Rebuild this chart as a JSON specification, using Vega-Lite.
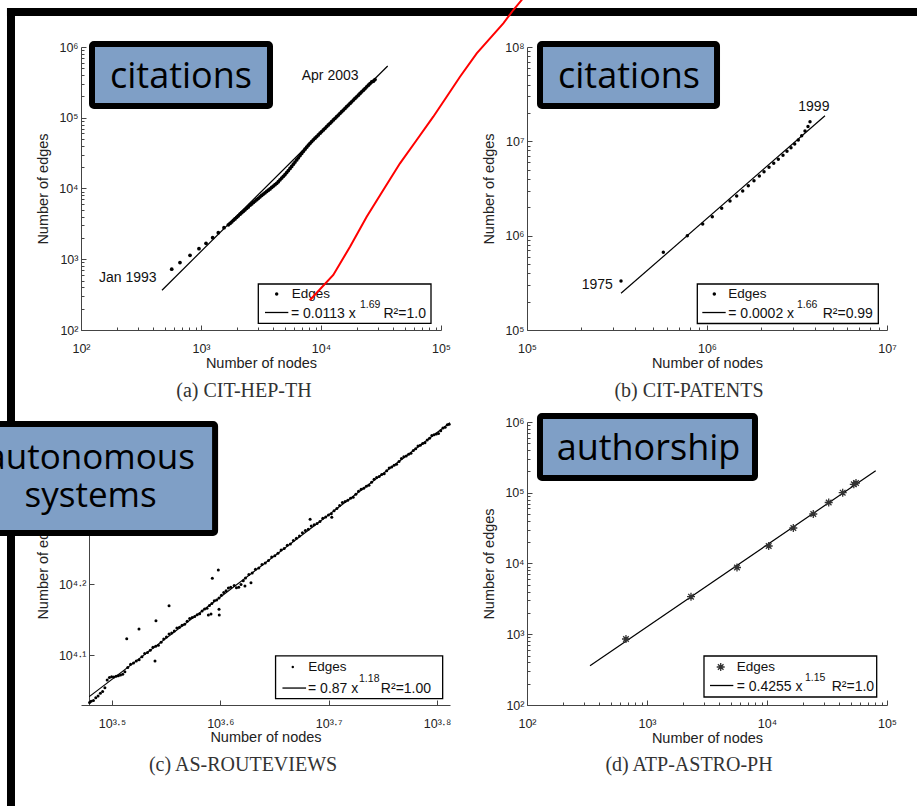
{
"$schema": "https://vega.github.io/schema/vega-lite/v6.json",
"autosize": {"type": "none"},
"padding": {"left": 81, "top": 47, "right": 836, "bottom": 759},
"background": "white",
"config": {
  "view": {"stroke": null},
  "axis": {"grid": false, "domainColor": "#444", "domainWidth": 1, "tickColor": "#444", "tickWidth": 1, "labelFont": "Liberation Sans", "labelFontSize": 12.5, "labelColor": "#222", "titleFont": "Liberation Sans", "titleFontSize": 14.5, "titleFontWeight": "normal", "titleColor": "#222", "labelFlush": false, "labelOverlap": false},
  "text": {"font": "Liberation Sans"}
},
"datasets": {
  "citHepTh": [{"nodes":570,"edges":723},{"nodes":668,"edges":898},{"nodes":810,"edges":1138},{"nodes":962,"edges":1413},{"nodes":1101,"edges":1680},{"nodes":1251,"edges":2020},{"nodes":1394,"edges":2375},{"nodes":1555,"edges":2795},{"nodes":1690,"edges":3068},{"nodes":1745,"edges":3208},{"nodes":1801,"edges":3361},{"nodes":1860,"edges":3548},{"nodes":1920,"edges":3719},{"nodes":1983,"edges":3914},{"nodes":2047,"edges":4117},{"nodes":2115,"edges":4335},{"nodes":2183,"edges":4544},{"nodes":2255,"edges":4766},{"nodes":2327,"edges":4995},{"nodes":2403,"edges":5239},{"nodes":2480,"edges":5488},{"nodes":2562,"edges":5799},{"nodes":2644,"edges":6053},{"nodes":2731,"edges":6350},{"nodes":2818,"edges":6632},{"nodes":2911,"edges":6959},{"nodes":3005,"edges":7268},{"nodes":3104,"edges":7628},{"nodes":3203,"edges":7965},{"nodes":3308,"edges":8328},{"nodes":3415,"edges":8673},{"nodes":3527,"edges":9071},{"nodes":3640,"edges":9469},{"nodes":3760,"edges":9872},{"nodes":3881,"edges":10349},{"nodes":4009,"edges":10819},{"nodes":4137,"edges":11334},{"nodes":4274,"edges":11858},{"nodes":4411,"edges":12506},{"nodes":4556,"edges":13250},{"nodes":4702,"edges":14018},{"nodes":4857,"edges":14854},{"nodes":5012,"edges":15762},{"nodes":5177,"edges":16817},{"nodes":5343,"edges":17960},{"nodes":5519,"edges":19222},{"nodes":5696,"edges":20538},{"nodes":5884,"edges":22040},{"nodes":6073,"edges":23630},{"nodes":6273,"edges":25370},{"nodes":6474,"edges":27200},{"nodes":6688,"edges":29200},{"nodes":6902,"edges":31290},{"nodes":7130,"edges":33590},{"nodes":7357,"edges":36000},{"nodes":7600,"edges":38390},{"nodes":7844,"edges":40880},{"nodes":8103,"edges":43480},{"nodes":8362,"edges":46130},{"nodes":8637,"edges":48730},{"nodes":8913,"edges":51370},{"nodes":9208,"edges":54270},{"nodes":9503,"edges":57230},{"nodes":9816,"edges":60440},{"nodes":10130,"edges":63750},{"nodes":10465,"edges":67340},{"nodes":10800,"edges":71020},{"nodes":11155,"edges":74990},{"nodes":11510,"edges":79060},{"nodes":11890,"edges":83480},{"nodes":12270,"edges":88060},{"nodes":12680,"edges":93070},{"nodes":13090,"edges":98200},{"nodes":13520,"edges":103700},{"nodes":13950,"edges":109300},{"nodes":14410,"edges":115500},{"nodes":14870,"edges":121800},{"nodes":15360,"edges":128500},{"nodes":15850,"edges":135600},{"nodes":16375,"edges":143200},{"nodes":16900,"edges":151000},{"nodes":17455,"edges":159500},{"nodes":18010,"edges":168100},{"nodes":18605,"edges":177600},{"nodes":19200,"edges":187200},{"nodes":19835,"edges":197800},{"nodes":20470,"edges":208600},{"nodes":21150,"edges":220400},{"nodes":21830,"edges":232400},{"nodes":22550,"edges":245500},{"nodes":23270,"edges":258800},{"nodes":24035,"edges":273400},{"nodes":24800,"edges":288300},{"nodes":25620,"edges":304400},{"nodes":26440,"edges":321000},{"nodes":27310,"edges":328200},{"nodes":28180,"edges":346100}],
  "citHepThFit": [{"nodes":473,"edges":365},{"nodes":35960,"edges":538900}],
  "citPatents": [{"nodes":332900,"edges":330700},{"nodes":571900,"edges":666300},{"nodes":777300,"edges":999000},{"nodes":946400,"edges":1329000},{"nodes":1070000,"edges":1589000},{"nodes":1207000,"edges":1950000},{"nodes":1342000,"edges":2330000},{"nodes":1462000,"edges":2633000},{"nodes":1579000,"edges":2975000},{"nodes":1696000,"edges":3385000},{"nodes":1824000,"edges":3824000},{"nodes":1953000,"edges":4290000},{"nodes":2074000,"edges":4764000},{"nodes":2211000,"edges":5305000},{"nodes":2348000,"edges":5849000},{"nodes":2490000,"edges":6450000},{"nodes":2643000,"edges":7110000},{"nodes":2782000,"edges":7841000},{"nodes":2929000,"edges":8560000},{"nodes":3070000,"edges":9370000},{"nodes":3215000,"edges":10330000},{"nodes":3358000,"edges":11470000},{"nodes":3503000,"edges":12870000},{"nodes":3640000,"edges":14360000},{"nodes":3735000,"edges":16150000}],
  "citPatentsFit": [{"nodes":332900,"edges":244800},{"nodes":4524000,"edges":18690000}],
  "asRouteViews": [{"nodes":3015,"edges":10792},{"nodes":3025,"edges":10834},{"nodes":3040,"edges":10860},{"nodes":3055,"edges":10959},{"nodes":3070,"edges":11022},{"nodes":3085,"edges":11121},{"nodes":3100,"edges":11183},{"nodes":3115,"edges":11320},{"nodes":3130,"edges":11607},{"nodes":3145,"edges":11708},{"nodes":3160,"edges":11735},{"nodes":3175,"edges":11723},{"nodes":3190,"edges":11750},{"nodes":3205,"edges":11775},{"nodes":3220,"edges":11801},{"nodes":3235,"edges":11826},{"nodes":3250,"edges":11928},{"nodes":3270,"edges":12092},{"nodes":3290,"edges":12216},{"nodes":3310,"edges":12263},{"nodes":3330,"edges":12349},{"nodes":3350,"edges":12395},{"nodes":3370,"edges":12521},{"nodes":3390,"edges":12648},{"nodes":3410,"edges":12693},{"nodes":3430,"edges":12780},{"nodes":3450,"edges":12909},{"nodes":3470,"edges":12953},{"nodes":3490,"edges":12998},{"nodes":3510,"edges":13126},{"nodes":3530,"edges":13256},{"nodes":3550,"edges":13343},{"nodes":3570,"edges":13474},{"nodes":3590,"edges":13518},{"nodes":3610,"edges":13605},{"nodes":3630,"edges":13737},{"nodes":3650,"edges":13779},{"nodes":3670,"edges":13866},{"nodes":3690,"edges":13909},{"nodes":3710,"edges":14042},{"nodes":3730,"edges":14176},{"nodes":3750,"edges":14218},{"nodes":3770,"edges":14260},{"nodes":3790,"edges":14347},{"nodes":3810,"edges":14388},{"nodes":3830,"edges":14523},{"nodes":3850,"edges":14612},{"nodes":3870,"edges":14652},{"nodes":3890,"edges":14788},{"nodes":3910,"edges":14876},{"nodes":3930,"edges":15013},{"nodes":3950,"edges":15053},{"nodes":3970,"edges":15141},{"nodes":3990,"edges":15279},{"nodes":4010,"edges":15417},{"nodes":4030,"edges":15507},{"nodes":4050,"edges":15646},{"nodes":4070,"edges":15685},{"nodes":4100,"edges":15768},{"nodes":4120,"edges":15652},{"nodes":4140,"edges":15688},{"nodes":4160,"edges":15830},{"nodes":4180,"edges":16022},{"nodes":4200,"edges":16163},{"nodes":4230,"edges":16350},{"nodes":4260,"edges":16431},{"nodes":4290,"edges":16620},{"nodes":4320,"edges":16700},{"nodes":4350,"edges":16889},{"nodes":4380,"edges":16968},{"nodes":4410,"edges":17103},{"nodes":4440,"edges":17294},{"nodes":4470,"edges":17373},{"nodes":4500,"edges":17508},{"nodes":4530,"edges":17701},{"nodes":4560,"edges":17779},{"nodes":4590,"edges":17973},{"nodes":4620,"edges":18051},{"nodes":4650,"edges":18245},{"nodes":4680,"edges":18381},{"nodes":4710,"edges":18518},{"nodes":4740,"edges":18716},{"nodes":4770,"edges":18852},{"nodes":4800,"edges":18928},{"nodes":4830,"edges":19127},{"nodes":4860,"edges":19203},{"nodes":4890,"edges":19278},{"nodes":4920,"edges":19414},{"nodes":4950,"edges":19615},{"nodes":4980,"edges":19689},{"nodes":5010,"edges":19826},{"nodes":5040,"edges":19899},{"nodes":5070,"edges":20101},{"nodes":5100,"edges":20239},{"nodes":5130,"edges":20443},{"nodes":5160,"edges":20648},{"nodes":5190,"edges":20720},{"nodes":5220,"edges":20792},{"nodes":5250,"edges":20931},{"nodes":5280,"edges":21001},{"nodes":5310,"edges":21208},{"nodes":5340,"edges":21416},{"nodes":5370,"edges":21556},{"nodes":5400,"edges":21625},{"nodes":5430,"edges":21765},{"nodes":5460,"edges":21833},{"nodes":5490,"edges":22044},{"nodes":5520,"edges":22255},{"nodes":5550,"edges":22395},{"nodes":5580,"edges":22463},{"nodes":5610,"edges":22603},{"nodes":5640,"edges":22669},{"nodes":5670,"edges":22883},{"nodes":5700,"edges":23098},{"nodes":5730,"edges":23164},{"nodes":5760,"edges":23304},{"nodes":5790,"edges":23369},{"nodes":5820,"edges":23586},{"nodes":5850,"edges":23804},{"nodes":5880,"edges":23945},{"nodes":5910,"edges":24009},{"nodes":5940,"edges":24151},{"nodes":5970,"edges":24213},{"nodes":6000,"edges":24434},{"nodes":6030,"edges":24576},{"nodes":6060,"edges":24798},{"nodes":6090,"edges":24860},{"nodes":6120,"edges":25002},{"nodes":6150,"edges":25063},{"nodes":6180,"edges":25286},{"nodes":6210,"edges":25429},{"nodes":6240,"edges":25654},{"nodes":6270,"edges":25714},{"nodes":6300,"edges":25772},{"nodes":6330,"edges":25831},{"nodes":6360,"edges":26057},{"nodes":6390,"edges":26285},{"nodes":6420,"edges":26343},{"nodes":6450,"edges":26572},{"nodes":6475,"edges":26605},{"nodes":3263,"edges":13275},{"nodes":3349,"edges":13697},{"nodes":3472,"edges":14071},{"nodes":3570,"edges":14770},{"nodes":3914,"edges":16147},{"nodes":3964,"edges":16586},{"nodes":3465,"edges":12346},{"nodes":3881,"edges":14333},{"nodes":3903,"edges":14380},{"nodes":3970,"edges":14600},{"nodes":3972,"edges":14333},{"nodes":4195,"edges":15745},{"nodes":4249,"edges":15916},{"nodes":4818,"edges":19548},{"nodes":5045,"edges":19680}],
  "asRouteViewsFit": [{"nodes":3013,"edges":11000},{"nodes":6486,"edges":26740}],
  "atpAstroPh": [{"nodes":668,"edges":857},{"nodes":2326,"edges":3394},{"nodes":5623,"edges":8780},{"nodes":10330,"edges":17670},{"nodes":16570,"edges":31760},{"nodes":24310,"edges":50080},{"nodes":32680,"edges":72820},{"nodes":42740,"edges":100200},{"nodes":52890,"edges":131700},{"nodes":55160,"edges":137400}],
  "atpAstroPhFit": [{"nodes":335,"edges":359.4},{"nodes":80520,"edges":204900}],
  "redStroke": [{"x":8098,"y":265.5},{"x":12660,"y":598.8},{"x":17450,"y":1504},{"x":24030,"y":3994},{"x":33050,"y":9524},{"x":45530,"y":22710},{"x":62730,"y":48470},{"x":86260,"y":103500},{"x":111500,"y":198400},{"x":144000,"y":380400},{"x":198400,"y":814700},{"x":330500,"y":2163000},{"x":400500,"y":3334000},{"x":470500,"y":4618000},{"x":551600,"y":6824000}]
},
"columns": 2,
"spacing": {"row": 92, "column": 77},
"bounds": "flush",
"concat": [
{
  "width": 360, "height": 283,
  "layer": [
    {"data": {"name": "citHepTh"}, "mark": {"type": "circle", "size": 14, "color": "black", "opacity": 1},
     "encoding": {
       "x": {"field": "nodes", "type": "quantitative", "scale": {"type": "log", "domain": [100, 100000], "nice": false},
             "axis": {"title": "Number of nodes", "values": [100,200,300,400,500,600,700,800,900,1000,2000,3000,4000,5000,6000,7000,8000,9000,10000,20000,30000,40000,50000,60000,70000,80000,90000,100000],
                      "labelExpr": "abs(log(datum.value)/LN10-round(log(datum.value)/LN10))<0.001 ? '10'+['⁰','¹','²','³','⁴','⁵','⁶','⁷','⁸','⁹'][round(log(datum.value)/LN10)] : ''",
                      "tickSize": {"condition": {"test": "abs(log(datum.value)/LN10-round(log(datum.value)/LN10))<0.001", "value": -5}, "value": -3},
                      "labelPadding": 17, "titlePadding": 0}},
       "y": {"field": "edges", "type": "quantitative", "scale": {"type": "log", "domain": [100, 1000000], "nice": false},
             "axis": {"title": "Number of edges", "values": [100,200,300,400,500,600,700,800,900,1000,2000,3000,4000,5000,6000,7000,8000,9000,10000,20000,30000,40000,50000,60000,70000,80000,90000,100000,200000,300000,400000,500000,600000,700000,800000,900000,1000000],
                      "labelExpr": "abs(log(datum.value)/LN10-round(log(datum.value)/LN10))<0.001 ? '10'+['⁰','¹','²','³','⁴','⁵','⁶','⁷','⁸','⁹'][round(log(datum.value)/LN10)] : ''",
                      "tickSize": {"condition": {"test": "abs(log(datum.value)/LN10-round(log(datum.value)/LN10))<0.001", "value": -5}, "value": -3},
                      "labelPadding": 8, "titlePadding": 8}}
     }},
    {"data": {"name": "citHepThFit"}, "mark": {"type": "line", "color": "black", "strokeWidth": 1.2},
     "encoding": {"x": {"field": "nodes", "type": "quantitative"}, "y": {"field": "edges", "type": "quantitative"}}},
    {"data": {"values": [{}]}, "mark": {"type": "rule", "color": "black", "strokeWidth": 8, "clip": false},
     "encoding": {"x": {"datum": 26.1, "type": "quantitative"}, "y": {"datum": 3557000, "type": "quantitative"}, "y2": {"datum": 0.000012}}},
    {"data": {"values": [{}]}, "mark": {"type": "rule", "color": "black", "strokeWidth": 8, "clip": false},
     "encoding": {"x": {"datum": 24.16, "type": "quantitative"}, "x2": {"datum": 1190000000}, "y": {"datum": 3124000, "type": "quantitative"}}},
    {"data": {"values": [{}]}, "mark": {"type": "text", "text": "(a) CIT-HEP-TH", "font": "Liberation Serif", "fontSize": 20, "align": "center", "baseline": "alphabetic", "color": "#333", "clip": false},
     "encoding": {"x": {"datum": 2282, "type": "quantitative"}, "y": {"datum": 11.3, "type": "quantitative"}}},
    {"data": {"values": [{}]}, "mark": {"type": "text", "text": "Apr 2003", "fontSize": 14, "align": "left", "baseline": "alphabetic", "color": "#111", "clip": false},
     "encoding": {"x": {"datum": 6906, "type": "quantitative"}, "y": {"datum": 341700, "type": "quantitative"}}},
    {"data": {"values": [{}]}, "mark": {"type": "text", "text": "Jan 1993", "fontSize": 14, "align": "left", "baseline": "alphabetic", "color": "#111", "clip": false},
     "encoding": {"x": {"datum": 141.3, "type": "quantitative"}, "y": {"datum": 472.5, "type": "quantitative"}}},
    {"data": {"values": [{}]}, "mark": {"type": "rect", "fill": "white", "stroke": "black", "strokeWidth": 1.3, "clip": false},
     "encoding": {"x": {"datum": 3003, "type": "quantitative"}, "x2": {"datum": 82540}, "y": {"datum": 447, "type": "quantitative"}, "y2": {"datum": 124.3}}},
    {"data": {"values": [{}]}, "mark": {"type": "circle", "size": 12, "color": "black", "opacity": 1, "clip": false},
     "encoding": {"x": {"datum": 4273, "type": "quantitative"}, "y": {"datum": 322.8, "type": "quantitative"}}},
    {"data": {"values": [{}]}, "mark": {"type": "text", "text": "Edges", "fontSize": 13.5, "align": "left", "baseline": "middle", "color": "#111", "clip": false},
     "encoding": {"x": {"datum": 5699, "type": "quantitative"}, "y": {"datum": 322.8, "type": "quantitative"}}},
    {"data": {"values": [{}]}, "mark": {"type": "rule", "color": "black", "strokeWidth": 1.3, "clip": false},
     "encoding": {"x": {"datum": 3415, "type": "quantitative"}, "x2": {"datum": 5341}, "y": {"datum": 176.8, "type": "quantitative"}}},
    {"data": {"values": [{}]}, "mark": {"type": "text", "text": "= 0.0113 x", "fontSize": 14, "align": "left", "baseline": "middle", "color": "#111", "clip": false},
     "encoding": {"x": {"datum": 5623, "type": "quantitative"}, "y": {"datum": 169.4, "type": "quantitative"}}},
    {"data": {"values": [{}]}, "mark": {"type": "text", "text": "1.69", "fontSize": 10.5, "align": "left", "baseline": "middle", "color": "#111", "clip": false},
     "encoding": {"x": {"datum": 21130, "type": "quantitative"}, "y": {"datum": 225.6, "type": "quantitative"}}},
    {"data": {"values": [{}]}, "mark": {"type": "text", "text": "R²=1.0", "fontSize": 14, "align": "left", "baseline": "middle", "color": "#111", "clip": false},
     "encoding": {"x": {"datum": 33180, "type": "quantitative"}, "y": {"datum": 169.4, "type": "quantitative"}}},
    {"data": {"values": [{}]}, "mark": {"type": "rect", "fill": "#7f9fc6", "stroke": "black", "strokeWidth": 6, "cornerRadius": 2, "clip": false},
     "encoding": {"x": {"datum": 123.5, "type": "quantitative"}, "x2": {"datum": 3758}, "y": {"datum": 1102700, "type": "quantitative"}, "y2": {"datum": 146600}}},
    {"data": {"values": [{}]}, "mark": {"type": "text", "text": "citations", "font": "Open Sans", "fontSize": 36, "align": "center", "baseline": "alphabetic", "color": "black", "clip": false},
     "encoding": {"x": {"datum": 681.3, "type": "quantitative"}, "y": {"datum": 260800, "type": "quantitative"}}},
    {"data": {"name": "redStroke"}, "mark": {"type": "line", "color": "#ff0000", "strokeWidth": 2, "clip": false},
     "encoding": {"x": {"field": "x", "type": "quantitative"}, "y": {"field": "y", "type": "quantitative"}}}
  ]
},
{
  "width": 360, "height": 283,
  "layer": [
    {"data": {"name": "citPatents"}, "mark": {"type": "circle", "size": 12, "color": "black", "opacity": 1},
     "encoding": {
       "x": {"field": "nodes", "type": "quantitative", "scale": {"type": "log", "domain": [100000, 10000000], "nice": false},
             "axis": {"title": "Number of nodes", "values": [100000,200000,300000,400000,500000,600000,700000,800000,900000,1000000,2000000,3000000,4000000,5000000,6000000,7000000,8000000,9000000,10000000],
                      "labelExpr": "abs(log(datum.value)/LN10-round(log(datum.value)/LN10))<0.001 ? '10'+['⁰','¹','²','³','⁴','⁵','⁶','⁷','⁸','⁹'][round(log(datum.value)/LN10)] : ''",
                      "tickSize": {"condition": {"test": "abs(log(datum.value)/LN10-round(log(datum.value)/LN10))<0.001", "value": -5}, "value": -3},
                      "labelPadding": 17, "titlePadding": 0}},
       "y": {"field": "edges", "type": "quantitative", "scale": {"type": "log", "domain": [100000, 100000000], "nice": false},
             "axis": {"title": "Number of edges", "values": [100000,200000,300000,400000,500000,600000,700000,800000,900000,1000000,2000000,3000000,4000000,5000000,6000000,7000000,8000000,9000000,10000000,20000000,30000000,40000000,50000000,60000000,70000000,80000000,90000000,100000000],
                      "labelExpr": "abs(log(datum.value)/LN10-round(log(datum.value)/LN10))<0.001 ? '10'+['⁰','¹','²','³','⁴','⁵','⁶','⁷','⁸','⁹'][round(log(datum.value)/LN10)] : ''",
                      "tickSize": {"condition": {"test": "abs(log(datum.value)/LN10-round(log(datum.value)/LN10))<0.001", "value": -5}, "value": -3},
                      "labelPadding": 8, "titlePadding": 8}}
     }},
    {"data": {"name": "citPatentsFit"}, "mark": {"type": "line", "color": "black", "strokeWidth": 1.2},
     "encoding": {"x": {"field": "nodes", "type": "quantitative"}, "y": {"field": "edges", "type": "quantitative"}}},
    {"data": {"values": [{}]}, "mark": {"type": "text", "text": "(b) CIT-PATENTS", "font": "Liberation Serif", "fontSize": 20, "align": "center", "baseline": "alphabetic", "color": "#333", "clip": false},
     "encoding": {"x": {"datum": 794300, "type": "quantitative"}, "y": {"datum": 19480, "type": "quantitative"}}},
    {"data": {"values": [{}]}, "mark": {"type": "text", "text": "1975", "fontSize": 14, "align": "left", "baseline": "alphabetic", "color": "#111", "clip": false},
     "encoding": {"x": {"datum": 201300, "type": "quantitative"}, "y": {"datum": 270100, "type": "quantitative"}}},
    {"data": {"values": [{}]}, "mark": {"type": "text", "text": "1999", "fontSize": 14, "align": "left", "baseline": "alphabetic", "color": "#111", "clip": false},
     "encoding": {"x": {"datum": 3215000, "type": "quantitative"}, "y": {"datum": 20970000, "type": "quantitative"}}},
    {"data": {"values": [{}]}, "mark": {"type": "rect", "fill": "white", "stroke": "black", "strokeWidth": 1.3, "clip": false},
     "encoding": {"x": {"datum": 883400, "type": "quantitative"}, "x2": {"datum": 8949000}, "y": {"datum": 307300, "type": "quantitative"}, "y2": {"datum": 117200}}},
    {"data": {"values": [{}]}, "mark": {"type": "circle", "size": 12, "color": "black", "opacity": 1, "clip": false},
     "encoding": {"x": {"datum": 1098000, "type": "quantitative"}, "y": {"datum": 240700, "type": "quantitative"}}},
    {"data": {"values": [{}]}, "mark": {"type": "text", "text": "Edges", "fontSize": 13.5, "align": "left", "baseline": "middle", "color": "#111", "clip": false},
     "encoding": {"x": {"datum": 1313000, "type": "quantitative"}, "y": {"datum": 240700, "type": "quantitative"}}},
    {"data": {"values": [{}]}, "mark": {"type": "rule", "color": "black", "strokeWidth": 1.3, "clip": false},
     "encoding": {"x": {"datum": 941700, "type": "quantitative"}, "x2": {"datum": 1270000}, "y": {"datum": 153200, "type": "quantitative"}}},
    {"data": {"values": [{}]}, "mark": {"type": "text", "text": "= 0.0002 x", "fontSize": 14, "align": "left", "baseline": "middle", "color": "#111", "clip": false},
     "encoding": {"x": {"datum": 1313000, "type": "quantitative"}, "y": {"datum": 148400, "type": "quantitative"}}},
    {"data": {"values": [{}]}, "mark": {"type": "text", "text": "1.66", "fontSize": 10.5, "align": "left", "baseline": "middle", "color": "#111", "clip": false},
     "encoding": {"x": {"datum": 3162000, "type": "quantitative"}, "y": {"datum": 184000, "type": "quantitative"}}},
    {"data": {"values": [{}]}, "mark": {"type": "text", "text": "R²=0.99", "fontSize": 14, "align": "left", "baseline": "middle", "color": "#111", "clip": false},
     "encoding": {"x": {"datum": 4393000, "type": "quantitative"}, "y": {"datum": 148400, "type": "quantitative"}}},
    {"data": {"values": [{}]}, "mark": {"type": "rect", "fill": "#7f9fc6", "stroke": "black", "strokeWidth": 6, "cornerRadius": 2, "clip": false},
     "encoding": {"x": {"datum": 118100, "type": "quantitative"}, "x2": {"datum": 1136700}, "y": {"datum": 107600000, "type": "quantitative"}, "y2": {"datum": 23690000}}},
    {"data": {"values": [{}]}, "mark": {"type": "text", "text": "citations", "font": "Open Sans", "fontSize": 36, "align": "center", "baseline": "alphabetic", "color": "black", "clip": false},
     "encoding": {"x": {"datum": 368800, "type": "quantitative"}, "y": {"datum": 36500000, "type": "quantitative"}}}
  ]
},
{
  "width": 369, "height": 283,
  "layer": [
    {"data": {"name": "asRouteViews"}, "mark": {"type": "circle", "size": 9, "color": "black", "opacity": 1},
     "encoding": {
       "x": {"field": "nodes", "type": "quantitative", "scale": {"type": "log", "domain": [2960.7, 6486.3], "nice": false},
             "axis": {"title": "Number of nodes", "values": [3162.28, 3981.07, 5011.87, 6309.57],
                      "labelExpr": "datum.value<3500?'10³·⁵':datum.value<4500?'10³·⁶':datum.value<5600?'10³·⁷':'10³·⁸'",
                      "tickSize": -5, "labelPadding": 17, "titlePadding": 1}},
       "y": {"field": "edges", "type": "quantitative", "scale": {"type": "log", "domain": [10705, 26804], "nice": false},
             "axis": {"title": "Number of edges", "values": [12589.25, 15848.93], "offset": -8,
                      "labelExpr": "datum.value<14000?'10⁴·¹':'10⁴·²'",
                      "tickSize": -5, "labelPadding": 8, "titlePadding": 8}}
     }},
    {"data": {"name": "asRouteViewsFit"}, "mark": {"type": "line", "color": "black", "strokeWidth": 1.2},
     "encoding": {"x": {"field": "nodes", "type": "quantitative"}, "y": {"field": "edges", "type": "quantitative"}}},
    {"data": {"values": [{}]}, "mark": {"type": "text", "text": "(c) AS-ROUTEVIEWS", "font": "Liberation Serif", "fontSize": 20, "align": "center", "baseline": "alphabetic", "color": "#333", "clip": false},
     "encoding": {"x": {"datum": 4178, "type": "quantitative"}, "y": {"datum": 8643, "type": "quantitative"}}},
    {"data": {"values": [{}]}, "mark": {"type": "rect", "fill": "white", "stroke": "black", "strokeWidth": 1.3, "clip": false},
     "encoding": {"x": {"datum": 4477, "type": "quantitative"}, "x2": {"datum": 6386}, "y": {"datum": 12550, "type": "quantitative"}, "y2": {"datum": 10930}}},
    {"data": {"values": [{}]}, "mark": {"type": "circle", "size": 6, "color": "black", "opacity": 1, "clip": false},
     "encoding": {"x": {"datum": 4644, "type": "quantitative"}, "y": {"datum": 12110, "type": "quantitative"}}},
    {"data": {"values": [{}]}, "mark": {"type": "text", "text": "Edges", "fontSize": 13.5, "align": "left", "baseline": "middle", "color": "#111", "clip": false},
     "encoding": {"x": {"datum": 4800, "type": "quantitative"}, "y": {"datum": 12110, "type": "quantitative"}}},
    {"data": {"values": [{}]}, "mark": {"type": "rule", "color": "black", "strokeWidth": 1.3, "clip": false},
     "encoding": {"x": {"datum": 4543, "type": "quantitative"}, "x2": {"datum": 4777}, "y": {"datum": 11310, "type": "quantitative"}}},
    {"data": {"values": [{}]}, "mark": {"type": "text", "text": "= 0.87 x", "fontSize": 14, "align": "left", "baseline": "middle", "color": "#111", "clip": false},
     "encoding": {"x": {"datum": 4797, "type": "quantitative"}, "y": {"datum": 11290, "type": "quantitative"}}},
    {"data": {"values": [{}]}, "mark": {"type": "text", "text": "1.18", "fontSize": 10.5, "align": "left", "baseline": "middle", "color": "#111", "clip": false},
     "encoding": {"x": {"datum": 5346, "type": "quantitative"}, "y": {"datum": 11650, "type": "quantitative"}}},
    {"data": {"values": [{}]}, "mark": {"type": "text", "text": "R²=1.00", "fontSize": 14, "align": "left", "baseline": "middle", "color": "#111", "clip": false},
     "encoding": {"x": {"datum": 5600, "type": "quantitative"}, "y": {"datum": 11290, "type": "quantitative"}}},
    {"data": {"values": [{}]}, "mark": {"type": "rect", "fill": "#7f9fc6", "stroke": "black", "strokeWidth": 6, "cornerRadius": 2, "clip": false},
     "encoding": {"x": {"datum": 2314, "type": "quantitative"}, "x2": {"datum": 3937}, "y": {"datum": 26630, "type": "quantitative"}, "y2": {"datum": 18700}}},
    {"data": {"values": [{}]}, "mark": {"type": "text", "text": "autonomous", "font": "Open Sans", "fontSize": 35, "align": "center", "baseline": "alphabetic", "color": "black", "clip": false},
     "encoding": {"x": {"datum": 3022, "type": "quantitative"}, "y": {"datum": 22990, "type": "quantitative"}}},
    {"data": {"values": [{}]}, "mark": {"type": "text", "text": "systems", "font": "Open Sans", "fontSize": 35, "align": "center", "baseline": "alphabetic", "color": "black", "clip": false},
     "encoding": {"x": {"datum": 3022, "type": "quantitative"}, "y": {"datum": 20370, "type": "quantitative"}}}
  ]
},
{
  "width": 360, "height": 283,
  "layer": [
    {"data": {"name": "atpAstroPhFit"}, "mark": {"type": "line", "color": "black", "strokeWidth": 1.2},
     "encoding": {
       "x": {"field": "nodes", "type": "quantitative", "scale": {"type": "log", "domain": [100, 100000], "nice": false},
             "axis": {"title": "Number of nodes", "values": [100,200,300,400,500,600,700,800,900,1000,2000,3000,4000,5000,6000,7000,8000,9000,10000,20000,30000,40000,50000,60000,70000,80000,90000,100000],
                      "labelExpr": "abs(log(datum.value)/LN10-round(log(datum.value)/LN10))<0.001 ? '10'+['⁰','¹','²','³','⁴','⁵','⁶','⁷','⁸','⁹'][round(log(datum.value)/LN10)] : ''",
                      "tickSize": {"condition": {"test": "abs(log(datum.value)/LN10-round(log(datum.value)/LN10))<0.001", "value": -5}, "value": -3},
                      "labelPadding": 17, "titlePadding": 0}},
       "y": {"field": "edges", "type": "quantitative", "scale": {"type": "log", "domain": [100, 1000000], "nice": false},
             "axis": {"title": "Number of edges", "values": [100,200,300,400,500,600,700,800,900,1000,2000,3000,4000,5000,6000,7000,8000,9000,10000,20000,30000,40000,50000,60000,70000,80000,90000,100000,200000,300000,400000,500000,600000,700000,800000,900000,1000000],
                      "labelExpr": "abs(log(datum.value)/LN10-round(log(datum.value)/LN10))<0.001 ? '10'+['⁰','¹','²','³','⁴','⁵','⁶','⁷','⁸','⁹'][round(log(datum.value)/LN10)] : ''",
                      "tickSize": {"condition": {"test": "abs(log(datum.value)/LN10-round(log(datum.value)/LN10))<0.001", "value": -5}, "value": -3},
                      "labelPadding": 8, "titlePadding": 8}}
     }},
    {"data": {"name": "atpAstroPh"}, "mark": {"type": "point", "shape": "M-1,0L1,0M0,-1L0,1M-0.7,-0.7L0.7,0.7M-0.7,0.7L0.7,-0.7", "size": 64, "filled": false, "color": "#333", "strokeWidth": 1.3, "opacity": 1},
     "encoding": {"x": {"field": "nodes", "type": "quantitative"}, "y": {"field": "edges", "type": "quantitative"}}},
    {"data": {"values": [{}]}, "mark": {"type": "text", "text": "(d) ATP-ASTRO-PH", "font": "Liberation Serif", "fontSize": 20, "align": "center", "baseline": "alphabetic", "color": "#333", "clip": false},
     "encoding": {"x": {"datum": 2239, "type": "quantitative"}, "y": {"datum": 11.67, "type": "quantitative"}}},
    {"data": {"values": [{}]}, "mark": {"type": "rect", "fill": "white", "stroke": "black", "strokeWidth": 1.3, "clip": false},
     "encoding": {"x": {"datum": 2985, "type": "quantitative"}, "x2": {"datum": 82060}, "y": {"datum": 492.7, "type": "quantitative"}, "y2": {"datum": 129.8}}},
    {"data": {"values": [{}]}, "mark": {"type": "point", "shape": "M-1,0L1,0M0,-1L0,1M-0.7,-0.7L0.7,0.7M-0.7,0.7L0.7,-0.7", "size": 64, "filled": false, "color": "#333", "strokeWidth": 1.3, "opacity": 1, "clip": false},
     "encoding": {"x": {"datum": 4114, "type": "quantitative"}, "y": {"datum": 344.4, "type": "quantitative"}}},
    {"data": {"values": [{}]}, "mark": {"type": "text", "text": "Edges", "fontSize": 13.5, "align": "left", "baseline": "middle", "color": "#111", "clip": false},
     "encoding": {"x": {"datum": 5591, "type": "quantitative"}, "y": {"datum": 344.4, "type": "quantitative"}}},
    {"data": {"values": [{}]}, "mark": {"type": "rule", "color": "black", "strokeWidth": 1.3, "clip": false},
     "encoding": {"x": {"datum": 3350, "type": "quantitative"}, "x2": {"datum": 5240}, "y": {"datum": 188.6, "type": "quantitative"}}},
    {"data": {"values": [{}]}, "mark": {"type": "text", "text": "= 0.4255 x", "fontSize": 14, "align": "left", "baseline": "middle", "color": "#111", "clip": false},
     "encoding": {"x": {"datum": 5591, "type": "quantitative"}, "y": {"datum": 179.7, "type": "quantitative"}}},
    {"data": {"values": [{}]}, "mark": {"type": "text", "text": "1.15", "fontSize": 10.5, "align": "left", "baseline": "middle", "color": "#111", "clip": false},
     "encoding": {"x": {"datum": 20730, "type": "quantitative"}, "y": {"datum": 236.9, "type": "quantitative"}}},
    {"data": {"values": [{}]}, "mark": {"type": "text", "text": "R²=1.0", "fontSize": 14, "align": "left", "baseline": "middle", "color": "#111", "clip": false},
     "encoding": {"x": {"datum": 34610, "type": "quantitative"}, "y": {"datum": 179.7, "type": "quantitative"}}},
    {"data": {"values": [{}]}, "mark": {"type": "rect", "fill": "#7f9fc6", "stroke": "black", "strokeWidth": 6, "cornerRadius": 2, "clip": false},
     "encoding": {"x": {"datum": 128.3, "type": "quantitative"}, "x2": {"datum": 7943}, "y": {"datum": 1216000, "type": "quantitative"}, "y2": {"datum": 161600}}},
    {"data": {"values": [{}]}, "mark": {"type": "text", "text": "authorship", "font": "Open Sans", "fontSize": 36, "align": "center", "baseline": "alphabetic", "color": "black", "clip": false},
     "encoding": {"x": {"datum": 1029, "type": "quantitative"}, "y": {"datum": 290400, "type": "quantitative"}}}
  ]
}
]
}
